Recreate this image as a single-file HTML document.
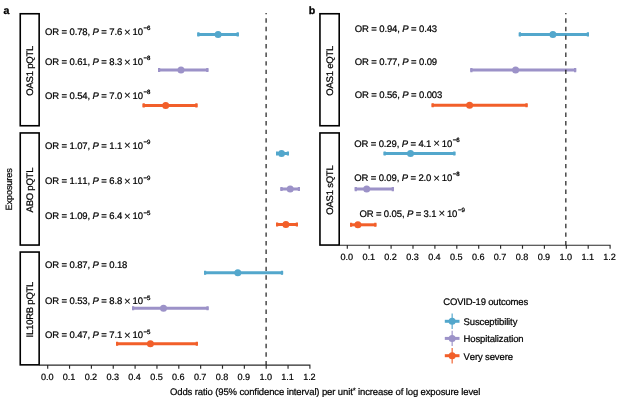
<!DOCTYPE html>
<html><head><meta charset="utf-8"><title>Figure</title>
<style>
html,body{margin:0;padding:0;background:#fff;}
body{width:620px;height:403px;overflow:hidden;font-family:"Liberation Sans",sans-serif;}
svg{display:block;font-family:"Liberation Sans",sans-serif;will-change:transform;opacity:0.999;}
text{text-rendering:geometricPrecision;font-kerning:none;}
.t{font-size:9.5px;fill:#000;stroke:#000;stroke-width:0.22px;letter-spacing:-0.12px;}
.tk{font-size:9.1px;letter-spacing:-0.05px;fill:#000;stroke:#000;stroke-width:0.2px;text-anchor:middle;}
.bx{fill:none;stroke:#000;stroke-width:1.6;}
.ax{stroke:#2a2a2a;stroke-width:1.15;fill:none;}
.ds{stroke:#111;stroke-width:1.15;stroke-dasharray:4.4 4.165;stroke-dashoffset:3.365;fill:none;}
</style></head><body>
<svg width="620" height="403" viewBox="0 0 620 403">
<rect width="620" height="403" fill="#fff"/>
<text x="3.6" y="13.6" font-size="10.6" font-weight="bold" fill="#000" stroke="#000" stroke-width="0.3">a</text>
<text x="308.8" y="13.6" font-size="10.6" font-weight="bold" fill="#000" stroke="#000" stroke-width="0.3">b</text>
<rect class="bx" x="20.25" y="13.75" width="18.9" height="112.0"/>
<text class="t" style="letter-spacing:-0.23px" text-anchor="middle" transform="translate(33.2,70.8) rotate(-90)">OAS1 pQTL</text>
<rect class="bx" x="20.25" y="132.95" width="18.9" height="112.1"/>
<text class="t" style="letter-spacing:-0.23px" text-anchor="middle" transform="translate(33.2,190.1) rotate(-90)">ABO pQTL</text>
<rect class="bx" x="20.25" y="252.05" width="18.9" height="112.8"/>
<text class="t" style="letter-spacing:-0.23px" text-anchor="middle" transform="translate(33.2,309.6) rotate(-90)">IL10RB pQTL</text>
<rect class="bx" x="319.95" y="13.75" width="19.25" height="112.0"/>
<text class="t" style="letter-spacing:-0.23px" text-anchor="middle" transform="translate(333.2,70.8) rotate(-90)">OAS1 eQTL</text>
<rect class="bx" x="319.95" y="132.95" width="19.25" height="112.1"/>
<text class="t" style="letter-spacing:-0.23px" text-anchor="middle" transform="translate(333.2,190.1) rotate(-90)">OAS1 sQTL</text>
<text class="t" style="font-size:9.15px" text-anchor="middle" transform="translate(11.7,189.4) rotate(-90)">Exposures</text>
<path class="ax" d="M39.3 365.1H310.47M47.70 365.1v3.6M69.55 365.1v3.6M91.40 365.1v3.6M113.25 365.1v3.6M135.10 365.1v3.6M156.95 365.1v3.6M178.80 365.1v3.6M200.65 365.1v3.6M222.50 365.1v3.6M244.35 365.1v3.6M266.20 365.1v3.6M288.05 365.1v3.6M309.90 365.1v3.6"/>
<text class="tk" x="47.20" y="379.7">0.0</text>
<text class="tk" x="69.05" y="379.7">0.1</text>
<text class="tk" x="90.90" y="379.7">0.2</text>
<text class="tk" x="112.75" y="379.7">0.3</text>
<text class="tk" x="134.60" y="379.7">0.4</text>
<text class="tk" x="156.45" y="379.7">0.5</text>
<text class="tk" x="178.30" y="379.7">0.6</text>
<text class="tk" x="200.15" y="379.7">0.7</text>
<text class="tk" x="222.00" y="379.7">0.8</text>
<text class="tk" x="243.85" y="379.7">0.9</text>
<text class="tk" x="265.70" y="379.7">1.0</text>
<text class="tk" x="287.55" y="379.7">1.1</text>
<text class="tk" x="309.40" y="379.7">1.2</text>
<path class="ax" d="M338.9 245.2H610.67M347.30 245.2v3.6M369.20 245.2v3.6M391.10 245.2v3.6M413.00 245.2v3.6M434.90 245.2v3.6M456.80 245.2v3.6M478.70 245.2v3.6M500.60 245.2v3.6M522.50 245.2v3.6M544.40 245.2v3.6M566.30 245.2v3.6M588.20 245.2v3.6M610.10 245.2v3.6"/>
<text class="tk" x="346.80" y="259.8">0.0</text>
<text class="tk" x="368.70" y="259.8">0.1</text>
<text class="tk" x="390.60" y="259.8">0.2</text>
<text class="tk" x="412.50" y="259.8">0.3</text>
<text class="tk" x="434.40" y="259.8">0.4</text>
<text class="tk" x="456.30" y="259.8">0.5</text>
<text class="tk" x="478.20" y="259.8">0.6</text>
<text class="tk" x="500.10" y="259.8">0.7</text>
<text class="tk" x="522.00" y="259.8">0.8</text>
<text class="tk" x="543.90" y="259.8">0.9</text>
<text class="tk" x="565.80" y="259.8">1.0</text>
<text class="tk" x="587.70" y="259.8">1.1</text>
<text class="tk" x="609.60" y="259.8">1.2</text>
<path d="M197.3 34.4H238.8" stroke="#53a7cc" stroke-width="3" fill="none"/><path d="M198.4 32.35v4.1M237.7 32.35v4.1" stroke="#53a7cc" stroke-width="2.2" fill="none"/><circle cx="218.1" cy="34.4" r="3.5" fill="#53a7cc"/>
<path d="M158 70.0H208.4" stroke="#9c92c8" stroke-width="3" fill="none"/><path d="M159.1 67.95v4.1M207.3 67.95v4.1" stroke="#9c92c8" stroke-width="2.2" fill="none"/><circle cx="181.0" cy="70.0" r="3.5" fill="#9c92c8"/>
<path d="M142.6 105.4H197.5" stroke="#f25f2a" stroke-width="3" fill="none"/><path d="M143.7 103.35v4.1M196.4 103.35v4.1" stroke="#f25f2a" stroke-width="2.2" fill="none"/><circle cx="165.7" cy="105.4" r="3.5" fill="#f25f2a"/>
<path d="M276 153.5H289" stroke="#53a7cc" stroke-width="3" fill="none"/><path d="M277.1 151.45v4.1M287.9 151.45v4.1" stroke="#53a7cc" stroke-width="2.2" fill="none"/><circle cx="281.5" cy="153.5" r="3.5" fill="#53a7cc"/>
<path d="M280.4 189H300" stroke="#9c92c8" stroke-width="3" fill="none"/><path d="M281.5 186.95v4.1M298.9 186.95v4.1" stroke="#9c92c8" stroke-width="2.2" fill="none"/><circle cx="290.2" cy="189" r="3.5" fill="#9c92c8"/>
<path d="M276 224.5H298" stroke="#f25f2a" stroke-width="3" fill="none"/><path d="M277.1 222.45v4.1M296.9 222.45v4.1" stroke="#f25f2a" stroke-width="2.2" fill="none"/><circle cx="285.9" cy="224.5" r="3.5" fill="#f25f2a"/>
<path d="M204 272.8H283.1" stroke="#53a7cc" stroke-width="3" fill="none"/><path d="M205.1 270.75v4.1M282.0 270.75v4.1" stroke="#53a7cc" stroke-width="2.2" fill="none"/><circle cx="237.8" cy="272.8" r="3.5" fill="#53a7cc"/>
<path d="M132 308.2H208.6" stroke="#9c92c8" stroke-width="3" fill="none"/><path d="M133.1 306.15v4.1M207.5 306.15v4.1" stroke="#9c92c8" stroke-width="2.2" fill="none"/><circle cx="163.5" cy="308.2" r="3.5" fill="#9c92c8"/>
<path d="M116 343.7H197.9" stroke="#f25f2a" stroke-width="3" fill="none"/><path d="M117.1 341.65v4.1M196.8 341.65v4.1" stroke="#f25f2a" stroke-width="2.2" fill="none"/><circle cx="150.4" cy="343.7" r="3.5" fill="#f25f2a"/>
<path d="M518.8 34.4H589" stroke="#53a7cc" stroke-width="3" fill="none"/><path d="M519.9 32.35v4.1M587.9 32.35v4.1" stroke="#53a7cc" stroke-width="2.2" fill="none"/><circle cx="552.9" cy="34.4" r="3.5" fill="#53a7cc"/>
<path d="M470.3 70.1H576.2" stroke="#9c92c8" stroke-width="3" fill="none"/><path d="M471.4 68.05v4.1M575.1 68.05v4.1" stroke="#9c92c8" stroke-width="2.2" fill="none"/><circle cx="515.6" cy="70.1" r="3.5" fill="#9c92c8"/>
<path d="M431.6 105.3H527.6" stroke="#f25f2a" stroke-width="3" fill="none"/><path d="M432.7 103.25v4.1M526.5 103.25v4.1" stroke="#f25f2a" stroke-width="2.2" fill="none"/><circle cx="469.6" cy="105.3" r="3.5" fill="#f25f2a"/>
<path d="M383.6 153.5H455.4" stroke="#53a7cc" stroke-width="3" fill="none"/><path d="M384.7 151.45v4.1M454.3 151.45v4.1" stroke="#53a7cc" stroke-width="2.2" fill="none"/><circle cx="410.5" cy="153.5" r="3.5" fill="#53a7cc"/>
<path d="M354.7 189.1H393.9" stroke="#9c92c8" stroke-width="3" fill="none"/><path d="M355.8 187.05v4.1M392.8 187.05v4.1" stroke="#9c92c8" stroke-width="2.2" fill="none"/><circle cx="366.7" cy="189.1" r="3.5" fill="#9c92c8"/>
<path d="M350 224.8H376.4" stroke="#f25f2a" stroke-width="3" fill="none"/><path d="M351.1 222.75v4.1M375.3 222.75v4.1" stroke="#f25f2a" stroke-width="2.2" fill="none"/><circle cx="357.9" cy="224.8" r="3.5" fill="#f25f2a"/>
<path class="ds" d="M266.1 13.1V365"/>
<path class="ds" d="M565.85 13.1V245.2"/>
<text x="45" y="35.2" class="t">OR = 0.78, <tspan font-style="italic">P</tspan> = 7.6 <tspan font-size="11.4" dx="-0.55" dy="0.55" stroke-width="0.1">×</tspan><tspan dx="-0.55" dy="-0.55"> 10</tspan><tspan dx="0.7" dy="-4.75" font-size="6.1" stroke-width="0.3">−6</tspan></text>
<text x="45" y="65.2" class="t">OR = 0.61, <tspan font-style="italic">P</tspan> = 8.3 <tspan font-size="11.4" dx="-0.55" dy="0.55" stroke-width="0.1">×</tspan><tspan dx="-0.55" dy="-0.55"> 10</tspan><tspan dx="0.7" dy="-4.75" font-size="6.1" stroke-width="0.3">−8</tspan></text>
<text x="45" y="98.9" class="t">OR = 0.54, <tspan font-style="italic">P</tspan> = 7.0 <tspan font-size="11.4" dx="-0.55" dy="0.55" stroke-width="0.1">×</tspan><tspan dx="-0.55" dy="-0.55"> 10</tspan><tspan dx="0.7" dy="-4.75" font-size="6.1" stroke-width="0.3">−8</tspan></text>
<text x="45" y="148.8" class="t">OR = 1.07, <tspan font-style="italic">P</tspan> = 1.1 <tspan font-size="11.4" dx="-0.55" dy="0.55" stroke-width="0.1">×</tspan><tspan dx="-0.55" dy="-0.55"> 10</tspan><tspan dx="0.7" dy="-4.75" font-size="6.1" stroke-width="0.3">−9</tspan></text>
<text x="45" y="184.3" class="t">OR = 1.11, <tspan font-style="italic">P</tspan> = 6.8 <tspan font-size="11.4" dx="-0.55" dy="0.55" stroke-width="0.1">×</tspan><tspan dx="-0.55" dy="-0.55"> 10</tspan><tspan dx="0.7" dy="-4.75" font-size="6.1" stroke-width="0.3">−9</tspan></text>
<text x="45" y="219.3" class="t">OR = 1.09, <tspan font-style="italic">P</tspan> = 6.4 <tspan font-size="11.4" dx="-0.55" dy="0.55" stroke-width="0.1">×</tspan><tspan dx="-0.55" dy="-0.55"> 10</tspan><tspan dx="0.7" dy="-4.75" font-size="6.1" stroke-width="0.3">−5</tspan></text>
<text x="45" y="268.3" class="t">OR = 0.87, <tspan font-style="italic">P</tspan> = 0.18</text>
<text x="45" y="304.3" class="t">OR = 0.53, <tspan font-style="italic">P</tspan> = 8.8 <tspan font-size="11.4" dx="-0.55" dy="0.55" stroke-width="0.1">×</tspan><tspan dx="-0.55" dy="-0.55"> 10</tspan><tspan dx="0.7" dy="-4.75" font-size="6.1" stroke-width="0.3">−5</tspan></text>
<text x="45" y="338.3" class="t">OR = 0.47, <tspan font-style="italic">P</tspan> = 7.1 <tspan font-size="11.4" dx="-0.55" dy="0.55" stroke-width="0.1">×</tspan><tspan dx="-0.55" dy="-0.55"> 10</tspan><tspan dx="0.7" dy="-4.75" font-size="6.1" stroke-width="0.3">−5</tspan></text>
<text x="354.8" y="31.6" class="t">OR = 0.94, <tspan font-style="italic">P</tspan> = 0.43</text>
<text x="354.8" y="65.3" class="t">OR = 0.77, <tspan font-style="italic">P</tspan> = 0.09</text>
<text x="354.8" y="98.3" class="t">OR = 0.56, <tspan font-style="italic">P</tspan> = 0.003</text>
<text x="354.2" y="146.6" class="t">OR = 0.29, <tspan font-style="italic">P</tspan> = 4.1 <tspan font-size="11.4" dx="-0.55" dy="0.55" stroke-width="0.1">×</tspan><tspan dx="-0.55" dy="-0.55"> 10</tspan><tspan dx="0.7" dy="-4.75" font-size="6.1" stroke-width="0.3">−6</tspan></text>
<text x="354.2" y="181.0" class="t">OR = 0.09, <tspan font-style="italic">P</tspan> = 2.0 <tspan font-size="11.4" dx="-0.55" dy="0.55" stroke-width="0.1">×</tspan><tspan dx="-0.55" dy="-0.55"> 10</tspan><tspan dx="0.7" dy="-4.75" font-size="6.1" stroke-width="0.3">−8</tspan></text>
<text x="359.4" y="216.6" class="t">OR = 0.05, <tspan font-style="italic">P</tspan> = 3.1 <tspan font-size="11.4" dx="-0.55" dy="0.55" stroke-width="0.1">×</tspan><tspan dx="-0.55" dy="-0.55"> 10</tspan><tspan dx="0.7" dy="-4.75" font-size="6.1" stroke-width="0.3">−9</tspan></text>
<text class="t" x="170" y="394.6" textLength="310.2" lengthAdjust="spacingAndGlyphs">Odds ratio (95% confidence interval) per unit<tspan font-size="7.6" dy="-1.2">*</tspan><tspan dy="1.2"> increase of log exposure level</tspan></text>
<text class="t" style="letter-spacing:-0.17px" x="443.3" y="304.8">COVID-19 outcomes</text>
<path d="M444.8 321.3H459.5" stroke="#53a7cc" stroke-width="3"/><path d="M452.15 313.6V329.0" stroke="#53a7cc" stroke-width="1.15"/><circle cx="452.15" cy="321.3" r="3.5" fill="#53a7cc"/>
<text class="t" x="463.5" y="324.9">Susceptibility</text>
<path d="M444.8 338.4H459.5" stroke="#9c92c8" stroke-width="3"/><path d="M452.15 330.7V346.1" stroke="#9c92c8" stroke-width="1.15"/><circle cx="452.15" cy="338.4" r="3.5" fill="#9c92c8"/>
<text class="t" x="463.5" y="342.0">Hospitalization</text>
<path d="M444.8 355.7H459.5" stroke="#f25f2a" stroke-width="3"/><path d="M452.15 348.0V363.4" stroke="#f25f2a" stroke-width="1.15"/><circle cx="452.15" cy="355.7" r="3.5" fill="#f25f2a"/>
<text class="t" x="463.5" y="360.1">Very severe</text>
</svg></body></html>
